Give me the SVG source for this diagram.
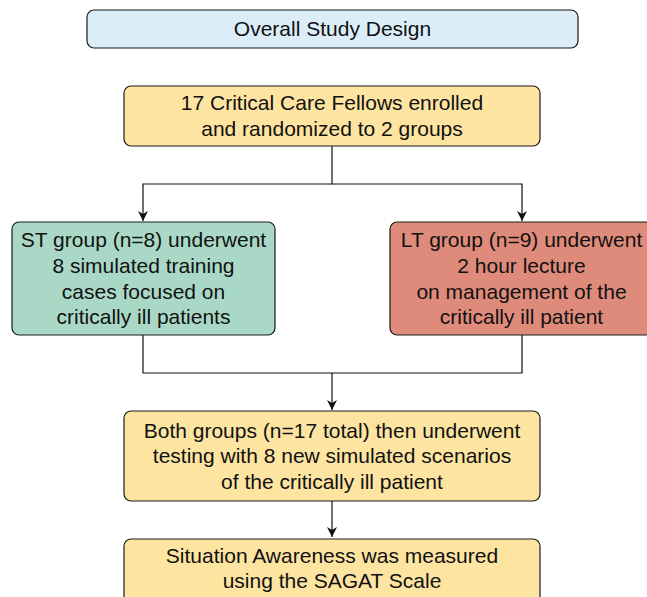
<svg xmlns="http://www.w3.org/2000/svg" width="647" height="597" viewBox="0 0 647 597">
<style>
.box{stroke:#1a1a1a;stroke-width:1.2}
.t{font-family:"Liberation Sans",Arial,sans-serif;font-size:21px;fill:#111;text-anchor:middle}
.c{fill:none;stroke:#111;stroke-width:1.2}
</style>
<defs>
<marker id="arr" viewBox="0 0 10 10" refX="10" refY="5" markerWidth="11" markerHeight="10" markerUnits="userSpaceOnUse" orient="auto">
<path d="M0,0 L10,5 L0,10 L3,5 Z" fill="#111"/>
</marker>
</defs>
<rect width="647" height="597" fill="#fff"/>
<g id="connectors">
<path class="c" d="M332,146 V184 H143 V221" marker-end="url(#arr)"/>
<path class="c" d="M332,184 H522 V221" marker-end="url(#arr)"/>
<path class="c" d="M143,335 V373 H522 V335"/>
<path class="c" d="M332,373 V410" marker-end="url(#arr)"/>
<path class="c" d="M332,501 V537" marker-end="url(#arr)"/>
</g>
<g id="title">
<rect class="box" x="87" y="10" width="491" height="38" rx="7" fill="#dcedfa"/>
<text class="t" x="332.5" y="36">Overall Study Design</text>
</g>
<g id="enrolled">
<rect class="box" x="124" y="86" width="416" height="60" rx="7" fill="#fde4a1"/>
<text class="t" x="332" y="110">17 Critical Care Fellows enrolled</text>
<text class="t" x="332" y="136">and randomized to 2 groups</text>
</g>
<g id="st-group">
<rect class="box" x="12" y="222" width="263" height="113" rx="7" fill="#a9d9c6"/>
<text class="t" x="143.5" y="247">ST group (n=8) underwent</text>
<text class="t" x="143.5" y="273">8 simulated training</text>
<text class="t" x="143.5" y="299">cases focused on</text>
<text class="t" x="143.5" y="324">critically ill patients</text>
</g>
<g id="lt-group">
<rect class="box" x="390" y="222" width="263" height="113" rx="7" fill="#df8b7b"/>
<text class="t" x="521.5" y="247">LT group (n=9) underwent</text>
<text class="t" x="521.5" y="273">2 hour lecture</text>
<text class="t" x="521.5" y="299">on management of the</text>
<text class="t" x="521.5" y="324">critically ill patient</text>
</g>
<g id="testing">
<rect class="box" x="124" y="411" width="416" height="90" rx="7" fill="#fde4a1"/>
<text class="t" x="332" y="438">Both groups (n=17 total) then underwent</text>
<text class="t" x="332" y="463">testing with 8 new simulated scenarios</text>
<text class="t" x="332" y="489">of the critically ill patient</text>
</g>
<g id="sagat">
<rect class="box" x="124" y="539" width="416" height="70" rx="7" fill="#fde4a1"/>
<text class="t" x="332" y="563">Situation Awareness was measured</text>
<text class="t" x="332" y="588">using the SAGAT Scale</text>
</g>
</svg>
